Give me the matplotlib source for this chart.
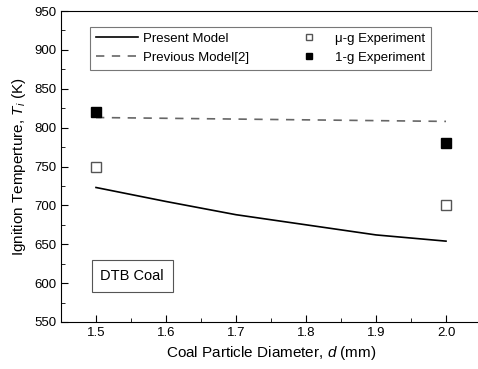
import matplotlib
matplotlib.use("Agg")
import matplotlib.pyplot as plt
from matplotlib.ticker import MultipleLocator

plt.rcParams['font.family'] = ['Liberation Sans', 'DejaVu Sans']
plt.rcParams['mathtext.fontset'] = 'custom'
plt.rcParams['mathtext.it'] = 'Liberation Sans:italic'
plt.rcParams['mathtext.rm'] = 'Liberation Sans'

d_model = [1.5, 1.6, 1.7, 1.8, 1.9, 2.0]
present_model = [723, 705, 688, 675, 662, 654]
d_prev = [1.5, 2.0]
previous_model = [813, 808]
d_exp = [1.5, 2.0]
mu_g_exp = [750, 700]
one_g_exp = [820, 780]

fig = plt.figure(figsize=(4.78, 3.69), dpi=100)
ax = fig.add_axes([61/478, 47/369, 420/478, 311/369])

l1, = ax.plot(d_model, present_model, color='black', lw=1.2, label='Present Model')
l2, = ax.plot(d_prev, previous_model, color='#666666', lw=1.2, dashes=(5, 4.5), label='Previous Model[2]')
l3, = ax.plot(d_exp, mu_g_exp, ls='none', marker='s', ms=7, mfc='white', mec='#555555', mew=1.0, label='μ-g Experiment')
l4, = ax.plot(d_exp, one_g_exp, ls='none', marker='s', ms=7, mfc='black', mec='black', label='1-g Experiment')

ax.set_xlim(1.45, 2.05)
ax.set_ylim(550, 950)
ax.spines['right'].set_visible(False)
ax.xaxis.set_major_locator(MultipleLocator(0.1))
ax.xaxis.set_minor_locator(MultipleLocator(0.05))
ax.yaxis.set_major_locator(MultipleLocator(50))
ax.yaxis.set_minor_locator(MultipleLocator(25))
ax.tick_params(which='both', direction='in', top=False, right=False, labelsize=9.5)
ax.tick_params(which='major', length=5)
ax.tick_params(which='minor', length=3)
ax.xaxis.set_major_formatter(plt.FuncFormatter(lambda v, p: f"{v:.1f}"))

ax.set_xlabel('Coal Particle Diameter, $d$ (mm)', fontsize=11)
ax.set_ylabel('Ignition Temperture, $T_i$ (K)', fontsize=11)

leg = ax.legend(handles=[l1, l2, l3, l4], ncol=2, loc='upper left',
                bbox_to_anchor=(22/420, 1 - 9/311), fontsize=9.5, frameon=True,
                fancybox=False, edgecolor='#555555', handlelength=3.2,
                columnspacing=2.9, markerscale=0.6, borderpad=0.45,
                handletextpad=0.4)
leg.get_frame().set_linewidth(0.8)

ax.text(0.094, 0.135, 'DTB Coal', transform=ax.transAxes, fontsize=10.5,
        bbox=dict(boxstyle='square,pad=0.6', fc='white', ec='#555555', lw=0.8))

fig.savefig('out.png', dpi=100)
